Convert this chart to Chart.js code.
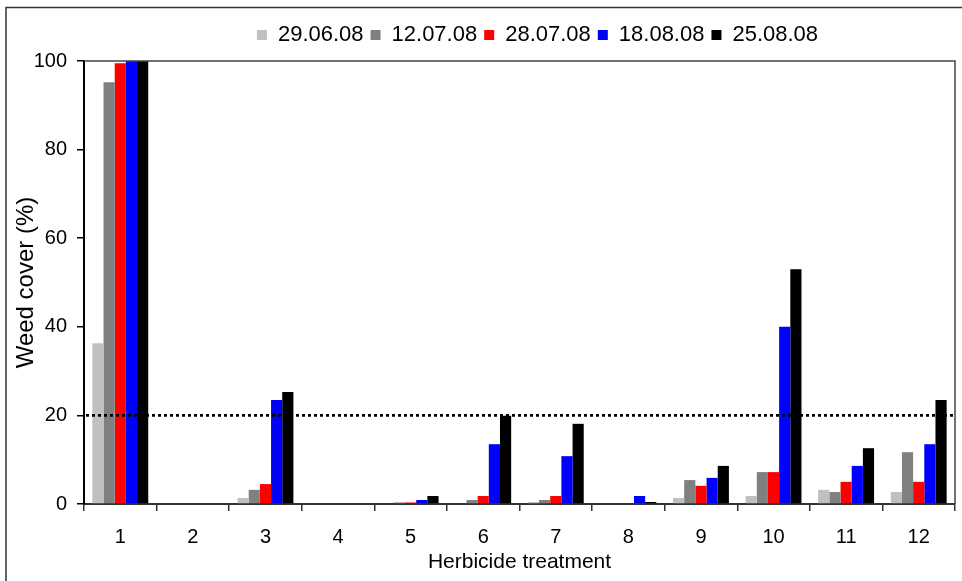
<!DOCTYPE html>
<html>
<head>
<meta charset="utf-8">
<script src="https://cdn.jsdelivr.net/npm/chart.js@4.4.1/dist/chart.umd.min.js"></script>
<style>
  html, body { margin: 0; padding: 0; background: #fff; }
  #wrap { width: 962px; height: 581px; }
</style>
</head>
<body>
<div id="wrap"><canvas id="weedChart" width="962" height="581"></canvas></div>
<script>
// Herbicide treatments
const treatments = ['1', '2', '3', '4', '5', '6', '7', '8', '9', '10', '11', '12'];

// Weed cover (%) per assessment date
const cover290608 = [36.3, 0, 1.35, 0, 0, 0, 0.45, 0, 1.35, 1.8, 3.2, 2.7];
const cover120708 = [95.2, 0, 3.2, 0, 0.35, 0.9, 0.9, 0, 5.4, 7.2, 2.7, 11.7];
const cover280708 = [99.5, 0, 4.5, 0, 0.35, 1.8, 1.8, 0, 4.1, 7.2, 5.0, 5.0];
const cover180808 = [100, 0, 23.5, 0, 0.9, 13.5, 10.8, 1.8, 5.9, 40, 8.6, 13.5];
const cover250808 = [100, 0, 25.3, 0, 1.8, 19.9, 18.1, 0.45, 8.6, 53, 12.6, 23.5];

const dateLabels = ['29.06.08', '12.07.08', '28.07.08', '18.08.08', '25.08.08'];
const yTicks = [0, 20, 40, 60, 80, 100];
const threshold = 20;

const fontFamily = "'Liberation Sans', Arial, sans-serif";

// extra drawing: outer frame, plot frame, dotted threshold line
const extras = {
  id: 'extras',
  beforeInit(chart) {
    const fit = chart.legend.fit;
    chart.legend.fit = function () {
      fit.call(this);
      this.height += 5;
    };
  },
  afterLayout(chart) {
    chart.legend.left += 60;
    chart.legend.right += 60;
  },
  beforeDraw(chart) {
    const ctx = chart.ctx;
    ctx.save();
    ctx.fillStyle = '#fff';
    ctx.fillRect(0, 0, chart.width, chart.height);
    ctx.strokeStyle = '#333';
    ctx.lineWidth = 1.5;
    ctx.beginPath();
    ctx.moveTo(6, chart.height);
    ctx.lineTo(6, 7.5);
    ctx.lineTo(chart.width, 7.5);
    ctx.stroke();
    ctx.restore();
  },
  afterDatasetsDraw(chart) {
    const ctx = chart.ctx;
    const a = chart.chartArea;
    const y = chart.scales.y.getPixelForValue(threshold);
    ctx.save();
    ctx.strokeStyle = '#000';
    ctx.lineWidth = 2.7;
    ctx.setLineDash([3, 3]);
    ctx.beginPath();
    ctx.moveTo(a.left + 2, y);
    ctx.lineTo(a.right, y);
    ctx.stroke();
    ctx.setLineDash([]);
    ctx.strokeStyle = '#444';
    ctx.lineWidth = 1.5;
    ctx.beginPath();
    ctx.moveTo(a.left, a.top);
    ctx.lineTo(a.right, a.top);
    ctx.lineTo(a.right, a.bottom);
    ctx.stroke();
    ctx.restore();
  }
};

const ctx = document.getElementById('weedChart').getContext('2d');
new Chart(ctx, {
  type: 'bar',
  data: {
    labels: treatments,
    datasets: [
      { label: dateLabels[0], data: cover290608, backgroundColor: '#c0c0c0' },
      { label: dateLabels[1], data: cover120708, backgroundColor: '#808080' },
      { label: dateLabels[2], data: cover280708, backgroundColor: '#ff0000' },
      { label: dateLabels[3], data: cover180808, backgroundColor: '#0000ff' },
      { label: dateLabels[4], data: cover250808, backgroundColor: '#000000' }
    ]
  },
  options: {
    responsive: false,
    animation: false,
    layout: { padding: { top: 17, right: 7, bottom: 0, left: 0 } },
    datasets: {
      bar: { categoryPercentage: 0.77, barPercentage: 1.0, borderWidth: 0 }
    },
    plugins: {
      legend: {
        position: 'top',
        labels: {
          boxWidth: 10,
          boxHeight: 10,
          padding: 7,
          color: '#000',
          font: { family: fontFamily, size: 22 }
        }
      },
      tooltip: { enabled: false }
    },
    scales: {
      x: {
        afterFit(scale) { scale.height = 77; },
        grid: {
          offset: true,
          drawOnChartArea: false,
          tickLength: 7,
          color: '#333',
          lineWidth: 1.5
        },
        border: { color: '#333', width: 2 },
        ticks: {
          color: '#000',
          padding: 14,
          font: { family: fontFamily, size: 20 }
        },
        title: {
          display: true,
          text: 'Herbicide treatment',
          color: '#000',
          padding: { top: 0, bottom: 6 },
          font: { family: fontFamily, size: 21 }
        }
      },
      y: {
        min: 0,
        max: 100,
        afterFit(scale) { scale.width = 84; },
        afterBuildTicks(scale) { scale.ticks = yTicks.map(v => ({ value: v })); },
        grid: {
          drawOnChartArea: false,
          tickLength: 7,
          color: '#000',
          lineWidth: 1.5
        },
        border: { color: '#000', width: 2 },
        ticks: {
          color: '#000',
          padding: 10,
          font: { family: fontFamily, size: 20 }
        },
        title: {
          display: true,
          text: 'Weed cover (%)',
          color: '#000',
          padding: { top: 12, bottom: 0 },
          font: { family: fontFamily, size: 24 }
        }
      }
    }
  },
  plugins: [extras]
});
</script>
</body>
</html>
